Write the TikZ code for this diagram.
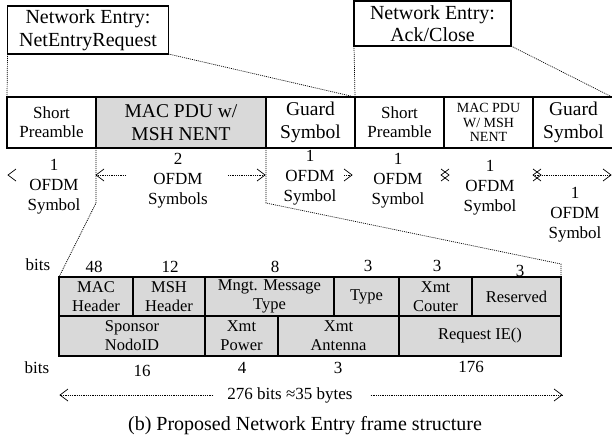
\documentclass[tikz,border=0pt]{standalone}
\usepackage{fontspec}
\setmainfont{Liberation Serif}
\usetikzlibrary{calc}
\newcommand\fsz[2]{\fontsize{#1pt}{#2pt}\selectfont}
\definecolor{cellgray}{HTML}{D9D9D9}
\begin{document}
\begin{tikzpicture}[x=1pt,y=-1pt,
  box/.style={draw, line width=1.8pt, rectangle, inner sep=0pt, outer sep=0pt, align=center},
  framecell/.style={box, minimum height=51pt},
  fieldcell/.style={box, fill=cellgray, font=\fsz{16.5}{19}},
  guide/.style={line width=0.7pt, dash pattern=on 1pt off 1pt},
  dimline/.style={line width=0.7pt, dash pattern=on 1pt off 0.8pt},
  tipline/.style={line width=0.7pt},
  lhead/.pic={\draw[tipline] (8,-6) -- (0,0) -- (8,6);},
  rhead/.pic={\draw[tipline] (-8,-6) -- (0,0) -- (-8,6);},
  lbl/.style={inner sep=0pt, align=center},
  ofdm/.style={lbl, font=\fsz{17}{20}},
  num/.style={lbl, font=\fsz{17}{20}}
]
\useasboundingbox (0,0) rectangle (612,441);

% message boxes
\node[box, minimum width=161pt, minimum height=48pt, font=\fsz{20}{23}] (req) at (88,30) {Network Entry:\\NetEntryRequest};
\node[box, minimum width=157pt, minimum height=45pt, font=\fsz{20}{22}] (ack) at (432.5,23.5) {Network Entry:\\Ack/Close};

% OFDM frame
\node[framecell, minimum width=89pt, font=\fsz{17}{19}] (f1) at (51.5,122.5) {Short\\Preamble};
\node[framecell, minimum width=170pt, fill=cellgray, font=\fsz{19.5}{23}] (f2) at (181,122.5) {MAC PDU w/\\MSH NENT};
\node[framecell, minimum width=89pt, font=\fsz{19.5}{23}] (f3) at (310.5,122.5) {Guard\\Symbol};
\node[framecell, minimum width=89pt, font=\fsz{17}{19}] (f4) at (399.5,122.5) {Short\\Preamble};
\node[framecell, minimum width=89pt, font=\fsz{14}{14.5}] (f5) at (488.5,122.5) {MAC PDU\\W/ MSH\\NENT};
\node[framecell, minimum width=81pt, font=\fsz{19.5}{23}] (f6) at (573.5,122.5) {Guard\\Symbol};

\draw[guide] (req.south west) -- (f1.north west);
\draw[guide] (req.south east) -- (f4.north west);
\draw[guide] (ack.south west) -- (f4.north west);
\draw[guide] (ack.south east) -- (612,97);

% symbol durations
\node[ofdm] (o1) at (54,187) {1\\OFDM\\Symbol};
\node[ofdm] (o2) at (178,181) {2\\OFDM\\Symbols};
\node[ofdm] (o3) at (310,178) {1\\OFDM\\Symbol};
\node[ofdm] (o4) at (398,181) {1\\OFDM\\Symbol};
\node[ofdm] (o5) at (490,188) {1\\OFDM\\Symbol};
\node[ofdm] (o6) at (575,215) {1\\OFDM\\Symbol};

\coordinate (d0) at (8,175);
\coordinate (d1) at (96,175);
\coordinate (d2) at (265,175);
\coordinate (d3) at (352,175);
\coordinate (d4) at (445,175);
\coordinate (d5) at (537,175);
\coordinate (d6) at (611,175);

\pic at (d0) {lhead};
\draw[dimline] (126,175) -- (d1);
\pic at (d1) {lhead};
\draw[dimline] (228,175) -- (d2);
\pic at (d2) {rhead};
\draw[dimline] (344,175) -- (d3);
\pic at (d3) {rhead};
\pic at ($(d4)+(4,0)$) {rhead};
\pic at ($(d4)+(-4,0)$) {lhead};
\pic at ($(d5)+(4,0)$) {rhead};
\pic at ($(d5)+(-4,0)$) {lhead};
\draw[dimline] ($(d5)+(-4,0)$) -- (d6);
\pic at (d6) {rhead};

% NENT message fields
\node[fieldcell, minimum width=74pt, minimum height=39pt] (t1) at (96,296.5) {MAC\\Header};
\node[fieldcell, minimum width=72pt, minimum height=39pt] (t2) at (169,296.5) {MSH\\Header};
\node[fieldcell, minimum width=129pt, minimum height=39pt] (t3) at (269.5,296.5) {Mngt. Message\\Type};
\node[fieldcell, minimum width=65pt, minimum height=39pt] (t4) at (366.5,296.5) {Type};
\node[fieldcell, minimum width=73pt, minimum height=39pt] (t5) at (435.5,296.5) {Xmt\\Couter};
\node[fieldcell, minimum width=89pt, minimum height=39pt] (t6) at (516.5,296.5) {Reserved};
\node[fieldcell, minimum width=146pt, minimum height=40pt] (t7) at (132,336) {Sponsor\\NodoID};
\node[fieldcell, minimum width=73pt, minimum height=40pt] (t8) at (241.5,336) {Xmt\\Power};
\node[fieldcell, minimum width=121pt, minimum height=40pt] (t9) at (338.5,336) {Xmt\\Antenna};
\node[fieldcell, minimum width=162pt, minimum height=40pt] (t10) at (480,336) {Request IE()};

\coordinate (k1) at (96,203);
\coordinate (k2) at (266,203);
\coordinate (k3) at (561,264);
\draw[guide] (f2.south west) -- (k1) -- (t1.north west);
\draw[guide] (f2.south east) -- (k2) -- (k3) -- (t6.north east);

% field sizes
\node[num] (bt) at (38,265) {bits};
\node[num] at (94,267) {48};
\node[num] at (170,267) {12};
\node[num] at (275,267) {8};
\node[num] at (368,266) {3};
\node[num] at (437,266) {3};
\node[num] at (520,271) {3};
\node[num] (bb) at (37,368) {bits};
\node[num] at (142,371) {16};
\node[num] at (242,368) {4};
\node[num] at (338,368) {3};
\node[num] at (471,367) {176};

% total length
\node[num] (total) at (290,395) {276 bits ≈35 bytes};
\coordinate (tl) at (60,395);
\coordinate (tr) at (562,395);
\draw[dimline] ($(total.west)+(-14,0)$) -- (tl);
\pic at (tl) {lhead};
\draw[dimline] ($(total.east)+(18,0)$) -- (tr);
\pic at (tr) {rhead};

\node[lbl, font=\fsz{20}{23}] (cap) at (305,426) {(b) Proposed Network Entry frame structure};
\end{tikzpicture}
\end{document}
